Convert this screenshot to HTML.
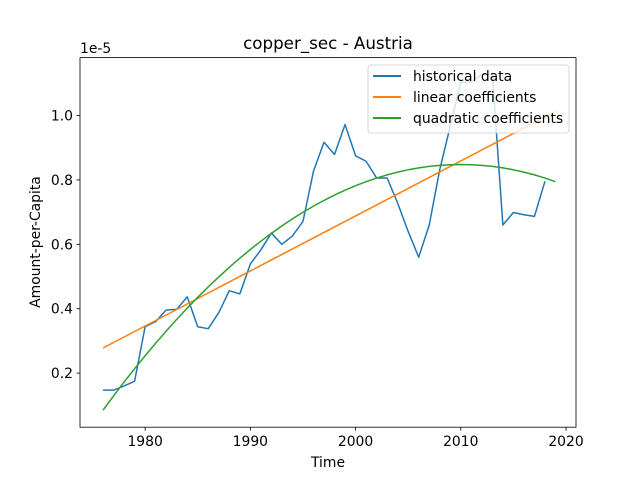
<!DOCTYPE html>
<html><head><meta charset="utf-8"><style>
body{margin:0;background:#fff}
svg text{font-family:"DejaVu Sans","Liberation Sans",sans-serif;fill:#000}
</style></head><body>
<svg id="chart" width="640" height="480" xmlns="http://www.w3.org/2000/svg">
<rect width="640" height="480" fill="#fff"/>
<text x="328" y="49" font-size="16.7" text-anchor="middle">copper_sec - Austria</text>
<text x="80" y="53" font-size="13.9">1e-5</text>
<text x="328" y="467" font-size="13.9" text-anchor="middle">Time</text>
<text transform="translate(40,242) rotate(-90)" font-size="13.9" text-anchor="middle">Amount-per-Capita</text>
<g id="ticks"></g>
<g id="series"></g>
<rect x="80" y="57.6" width="496" height="369.6" fill="none" stroke="#000" stroke-width="0.8"/>
<g>
<rect x="368" y="65" width="201" height="68" rx="3" fill="#fff" fill-opacity="0.8" stroke="#ccc" stroke-width="0.8"/>
<line x1="373" y1="76" x2="401" y2="76" stroke="#1f77b4" stroke-width="2"/>
<text x="413" y="81" font-size="13.9">historical data</text>
<line x1="373" y1="97" x2="401" y2="97" stroke="#ff7f0e" stroke-width="2"/>
<text x="413" y="102" font-size="13.9">linear coefficients</text>
<line x1="373" y1="118" x2="401" y2="118" stroke="#2ca02c" stroke-width="2"/>
<text x="413" y="123" font-size="13.9">quadratic coefficients</text>
</g>
</svg>
<script>
const years=[1976,1977,1978,1979,1980,1981,1982,1983,1984,1985,1986,1987,1988,1989,1990,1991,1992,1993,1994,1995,1996,1997,1998,1999,2000,2001,2002,2003,2004,2005,2006,2007,2008,2009,2010,2011,2012,2013,2014,2015,2016,2017,2018];
const historical=[0.147,0.147,0.16,0.175,0.344,0.36,0.396,0.398,0.437,0.344,0.338,0.388,0.456,0.446,0.539,0.583,0.635,0.60,0.626,0.671,0.827,0.917,0.879,0.972,0.875,0.858,0.806,0.806,0.728,0.64,0.56,0.66,0.832,0.967,1.104,1.104,1.128,1.128,0.66,0.699,0.692,0.687,0.796];
const fitYears=[1976,1977,1978,1979,1980,1981,1982,1983,1984,1985,1986,1987,1988,1989,1990,1991,1992,1993,1994,1995,1996,1997,1998,1999,2000,2001,2002,2003,2004,2005,2006,2007,2008,2009,2010,2011,2012,2013,2014,2015,2016,2017,2018,2019];
const linearCoef=[0.278,0.01709]; // value at 1976, slope per year
const quadCoef=[-0.00066,2010,0.848]; // a, vertex year, vertex value
const xTicks=[1980,1990,2000,2010,2020];
const yTicks=[0.2,0.4,0.6,0.8,1.0];
const yTickLabels=["0.2","0.4","0.6","0.8","1.0"];

const X=v=>80+(v-1973.81)/(2020.95-1973.81)*496;
const Y=v=>427.2-(v-0.032)/(1.18-0.032)*369.6;
const NS="http://www.w3.org/2000/svg";
const tg=document.getElementById('ticks'), sg=document.getElementById('series');
function mk(tag,attrs,parent){const e=document.createElementNS(NS,tag);for(const k in attrs)e.setAttribute(k,attrs[k]);parent.appendChild(e);return e;}
xTicks.forEach(t=>{
  const l=mk('line',{x1:X(t),x2:X(t),y1:427.2,y2:430.7,stroke:'#000','stroke-width':0.8},tg);
  
  
  const tx=mk('text',{x:X(t),y:446,'font-size':13.9,'text-anchor':'middle'},tg);tx.textContent=t;
  
  
});
yTicks.forEach((t,i)=>{
  const l=mk('line',{x1:76.5,x2:80,y1:Y(t),y2:Y(t),stroke:'#000','stroke-width':0.8},tg);
  
  
  const tx=mk('text',{x:73,y:Y(t)+5,'font-size':13.9,'text-anchor':'end'},tg);tx.textContent=yTickLabels[i];
  
  
});
function line(xs,vs,color,name){
  const p=mk('polyline',{points:xs.map((x,i)=>X(x)+','+Y(vs[i])).join(' '),fill:'none',stroke:color,'stroke-width':1.5,'stroke-linejoin':'round'},sg);
  
  
}
const linVals=fitYears.map(y=>linearCoef[0]+linearCoef[1]*(y-1976));
const quadVals=fitYears.map(y=>quadCoef[0]*(y-quadCoef[1])**2+quadCoef[2]);
line(years,historical,'#1f77b4','historical-data-line');
line(fitYears,linVals,'#ff7f0e','linear-fit-line');
line(fitYears,quadVals,'#2ca02c','quadratic-fit-line');
</script>
</body></html>
